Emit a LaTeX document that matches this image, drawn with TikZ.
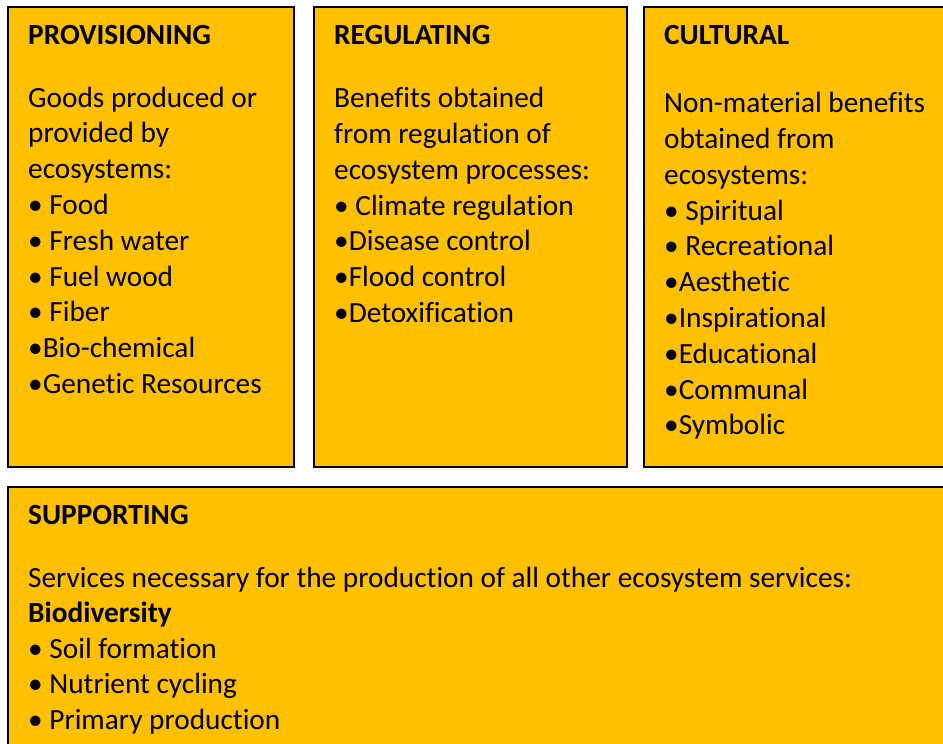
\documentclass[tikz,border=0pt]{standalone}
\usepackage{fontspec}
\setmainfont{Carlito}[Ligatures=CommonOff]
\definecolor{svcgold}{HTML}{FFC000}
\newcommand\svcsize{\fontsize{29.3}{35.8}\selectfont}
\tikzset{
  svcbox/.style={draw=black, line width=1.6pt, fill=svcgold, anchor=north west, inner sep=0pt},
  svctitle/.style={anchor=base west, inner sep=0pt, font=\svcsize\bfseries},
  svcline/.style={anchor=base west, inner sep=0pt, font=\svcsize},
}
\begin{document}
\begin{tikzpicture}[x=1pt, y=-1pt]
\clip (0,0) rectangle (943,744);
% boxes
\node[svcbox, minimum width=286pt, minimum height=460pt] (prov) at (7,6) {};
\node[svcbox, minimum width=313pt, minimum height=460pt] (regu) at (313,6) {};
\node[svcbox, minimum width=330pt, minimum height=460pt] (cult) at (643,6) {};
\node[svcbox, minimum width=960pt, minimum height=290pt] (supp) at (7,486) {};
% provisioning
\node[svctitle] (prov-title) at (28,45) {PROVISIONING};
\foreach \txt [count=\i from 0] in {Goods produced or, provided by, ecosystems:, • Food, • Fresh water, • Fuel wood, • Fiber, •Bio-chemical, •Genetic Resources}{
\node[svcline] (prov-\i) at (28,107+35.8*\i) {\txt};
}
% regulating
\node[svctitle] (regu-title) at (334,45) {REGULATING};
\foreach \txt [count=\i from 0] in {Benefits obtained, from regulation of, ecosystem processes:, • Climate regulation, •Disease control, •Flood control, •Detoxification}{
\node[svcline] (regu-\i) at (334,107.7+35.8*\i) {\txt};
}
% cultural
\node[svctitle] (cult-title) at (664,45) {CULTURAL};
\foreach \txt [count=\i from 0] in {Non-material benefits, obtained from, ecosystems:, • Spiritual, • Recreational, •Aesthetic, •Inspirational, •Educational, •Communal, •Symbolic}{
\node[svcline] (cult-\i) at (664,112.7+35.8*\i) {\txt};
}
% supporting
\node[svctitle] (supp-title) at (28,524) {SUPPORTING};
\foreach \txt [count=\i from 0] in {Services necessary for the production of all other ecosystem services:, {\textbf{Biodiversity}}, • Soil formation, • Nutrient cycling, • Primary production}{
\node[svcline] (supp-\i) at (28,587+35.6*\i) {\txt};
}
\end{tikzpicture}
\end{document}
